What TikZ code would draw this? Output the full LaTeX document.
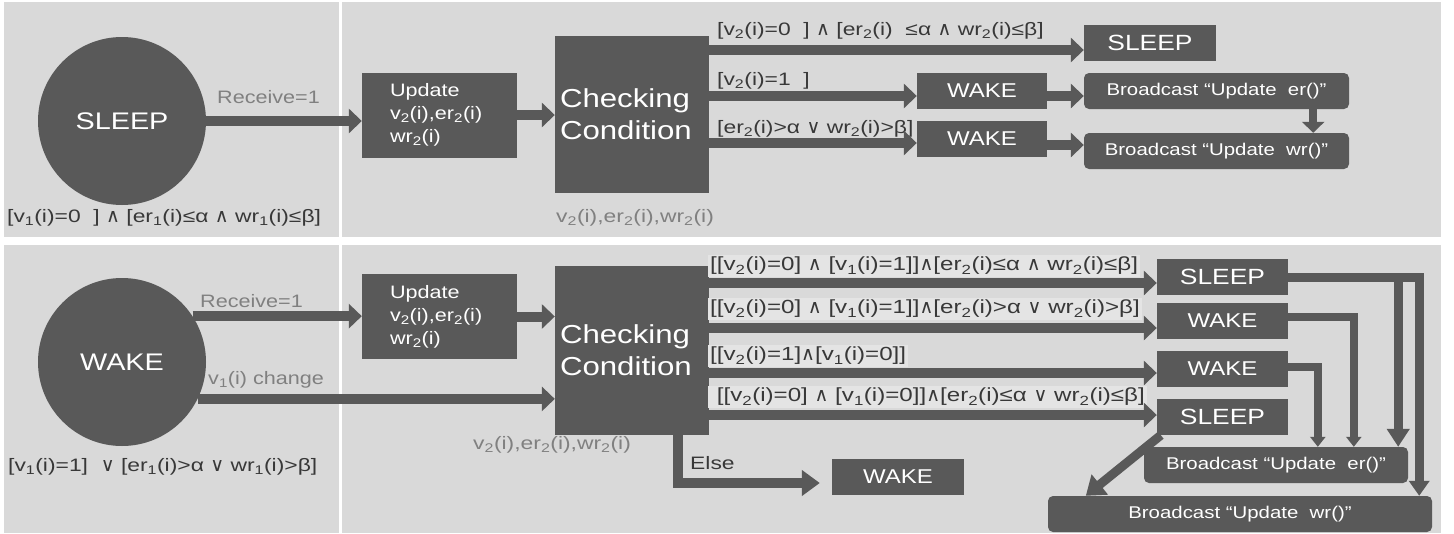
\documentclass[tikz,border=0pt]{standalone}
\usepackage{fontspec}
\setmainfont[FakeStretch=1.2]{Liberation Sans}
\newfontfamily\lf[FakeStretch=1.27]{Liberation Sans}
\newfontfamily\symf{DejaVu Sans}
\usetikzlibrary{arrows.meta,calc}
\definecolor{dk}{HTML}{595959}
\definecolor{pn}{HTML}{D9D9D9}
\definecolor{lbg}{HTML}{E4E4E4}
\definecolor{gt}{HTML}{808080}
\definecolor{tx}{HTML}{383838}
\newcommand\sbs[1]{\textsubscript{#1}}
\newcommand\AND{{\symf\fontsize{19}{19}\selectfont ∧}}
\newcommand\OR{{\symf\fontsize{19}{19}\selectfont ∨}}
\newcommand\fs[1]{\fontsize{#1}{#1}\selectfont}
\tikzset{
  big/.style={draw=dk, line width=10pt, -{Triangle[length=13pt,width=24pt]}},
  mid/.style={draw=dk, line width=9pt, -{Triangle[length=18pt,width=22pt]}},
  sml/.style={draw=dk, line width=8pt, -{Triangle[length=10pt,width=15pt]}},
  dbox/.style={fill=dk, text=white, inner sep=0pt},
  rbox/.style={dbox, rounded corners=5pt},
  bstate/.style={dbox, minimum width=131pt, minimum height=36pt, font=\fs{20}},
  circ/.style={circle, fill=dk, text=white, minimum size=168pt, inner sep=0pt, font=\fs{24}},
  upd/.style={dbox, minimum height=85pt, text width=99pt, inner xsep=28pt, align=left, font=\fontsize{18}{23}\selectfont},
  chk/.style={dbox, text width=144pt, inner xsep=5pt, align=left, font=\fontsize{26}{32}\selectfont},
  glab/.style={anchor=west, inner sep=0pt, text=gt, font=\fs{18}},
  clab/.style={anchor=west, inner sep=0pt, text=tx, font=\lf\fs{18}},
  blab/.style={anchor=west, inner sep=2pt, fill=lbg, text=tx, font=\lf\fs{19}},
}
\begin{document}
\begin{tikzpicture}[x=1pt,y=-1pt]
\useasboundingbox (0,0) rectangle (1454,533);
\fill[white] (0,0) rectangle (1454,533);
% panels
\fill[pn] (4,2) rectangle (339,237);
\fill[pn] (342,2) rectangle (1441,237);
\fill[pn] (4,245) rectangle (339,533);
\fill[pn] (342,245) rectangle (1441,533);

% ================= TOP PANEL =================
\node[circ] (c1) at (122,121) {SLEEP};
\node[upd] (up1) at (439.5,115) {Update\\v\sbs{2}(i),er\sbs{2}(i)\\wr\sbs{2}(i)};
\node[chk, minimum height=157pt] (ch1) at (632,114.5) {Checking\\Condition};
\node[bstate, minimum width=132pt, font=\fs{22}] (sl1) at (1150,43) {SLEEP};
\node[bstate, minimum width=130pt] (wk1) at (982,91) {WAKE};
\node[bstate, minimum width=130pt] (wk2) at (982,139) {WAKE};
\node[rbox, minimum width=265pt, minimum height=36pt, font=\fs{17}] (er1) at (1216.5,91) {Broadcast “Update~~er()”};
\node[rbox, minimum width=265pt, minimum height=36pt, font=\fs{17}] (wr1) at (1216.5,151) {Broadcast “Update~~wr()”};

\node[glab] (rc1) at (217,97) {Receive=1};
\node[clab] (lc1) at (7,218) {[v\sbs{1}(i)=0~~] \AND{} [er\sbs{1}(i)≤α \AND{} wr\sbs{1}(i)≤β]};
\node[glab, font=\lf\fs{18}] (gv1) at (556,218) {v\sbs{2}(i),er\sbs{2}(i),wr\sbs{2}(i)};
\node[clab] (lt1) at (717,31) {[v\sbs{2}(i)=0~~] \AND{} [er\sbs{2}(i)~ ≤α \AND{} wr\sbs{2}(i)≤β]};
\node[clab] (lt2) at (717,81) {[v\sbs{2}(i)=1~~]};
\node[clab] (lt3) at (717,129) {[er\sbs{2}(i)>α \OR{} wr\sbs{2}(i)>β]};

\draw[big] (c1.east) -- (c1.east -| up1.west);
\draw[big] (up1.east) -- (up1.east -| ch1.west);
\coordinate (t1) at ($(sl1.west)+(0,7)$);
\coordinate (t2) at ($(wk1.west)+(0,5)$);
\coordinate (t3) at ($(wk2.west)+(0,4)$);
\draw[big] (ch1.east |- t1) -- (t1);
\draw[big] (ch1.east |- t2) -- (t2);
\draw[big] (ch1.east |- t3) -- (t3);
\draw[big] (wk1.east |- t2) -- (er1.west |- t2);
\coordinate (t4) at ($(wk2.east)+(0,6)$);
\draw[big] (t4) -- (wr1.west |- t4);
\coordinate (t5) at ($(er1.south east)+(-36,0)$);
\draw[sml, -{Triangle[length=11pt,width=22pt]}] (t5) -- (t5 |- wr1.north);

% ================= BOTTOM PANEL =================
\node[circ] (c2) at (122,362) {WAKE};
\node[upd] (up2) at (439.5,316.5) {Update\\v\sbs{2}(i),er\sbs{2}(i)\\wr\sbs{2}(i)};
\node[chk, minimum height=169pt] (ch2) at (632,350.5) {Checking\\Condition};
\node[bstate, font=\fs{22}] (s3) at (1222.5,277) {SLEEP};
\node[bstate] (w3) at (1222.5,320.5) {WAKE};
\node[bstate] (w4) at (1222.5,369) {WAKE};
\node[bstate, font=\fs{22}] (s4) at (1222.5,417) {SLEEP};
\node[bstate, minimum width=132pt] (ewk) at (898,477) {WAKE};
\node[rbox, minimum width=264pt, minimum height=36pt, font=\fs{17}] (er2) at (1276,465) {Broadcast “Update~~er()”};
\node[rbox, minimum width=384pt, minimum height=36pt, font=\fs{17}] (wr2) at (1240,514) {Broadcast “Update~~wr()”};

\node[glab] (rc2) at (200,301) {Receive=1};
\node[glab] (vc2) at (208,380) {v\sbs{1}(i) change};
\node[clab] (lc2) at (8,467) {[v\sbs{1}(i)=1]~ \OR{} [er\sbs{1}(i)>α \OR{} wr\sbs{1}(i)>β]};
\node[glab, font=\lf\fs{18}] (gv2) at (473,445) {v\sbs{2}(i),er\sbs{2}(i),wr\sbs{2}(i)};
\node[clab] (el) at (690,463) {Else};
\node[blab] (lb1) at (708,266) {[[v\sbs{2}(i)=0] \AND{} [v\sbs{1}(i)=1]]\AND[er\sbs{2}(i)≤α \AND{} wr\sbs{2}(i)≤β]};
\node[blab] (lb2) at (708,309) {[[v\sbs{2}(i)=0] \AND{} [v\sbs{1}(i)=1]]\AND[er\sbs{2}(i)>α \OR{} wr\sbs{2}(i)>β]};
\node[blab] (lb3) at (708,356) {[[v\sbs{2}(i)=1]\AND[v\sbs{1}(i)=0]]};
\node[blab] (lb4) at (708,397) {~[[v\sbs{2}(i)=0] \AND{} [v\sbs{1}(i)=0]]\AND[er\sbs{2}(i)≤α \OR{} wr\sbs{2}(i)≤β]};

\draw[big] (c2.33) -- (c2.33 -| up2.west);
\draw[big] (c2.-26) -- (c2.-26 -| ch2.west);
\draw[big] (up2.east) -- (up2.east -| ch2.west);
\coordinate (b1) at ($(s3.west)+(0,6)$);
\coordinate (b2) at ($(w3.west)+(0,7.5)$);
\coordinate (b3) at ($(w4.west)+(0,4)$);
\coordinate (b4) at ($(s4.west)+(0,-2)$);
\draw[big] (ch2.east |- b1) -- (b1);
\draw[big] (ch2.east |- b2) -- (b2);
\draw[big] (ch2.east |- b3) -- (b3);
\draw[big] (ch2.east |- b4) -- (b4);
% else
\coordinate (e0) at ($(ch2.south west)+(123,0)$);
\coordinate (e1) at ($(ewk.west)+(0,6)$);
\draw[big, -{Triangle[length=18pt,width=25pt]}, shorten >=12pt] (e0) |- (e1);
% right side connectors
\coordinate (o1) at ($(wr2.north east)+(-13,0)$);
\coordinate (o2) at ($(er2.north east)+(-10,0)$);
\draw[mid, -{Triangle[length=15pt,width=20pt]}] (s3.east) -| (o1);
\draw[mid] (o2 |- s3.east) -- (o2);
\coordinate (o3) at ($(w3.east)+(0,-4)$);
\coordinate (o4) at ($(er2.north west)+(210,0)$);
\draw[sml] (o3) -| (o4);
\coordinate (o5) at ($(w4.east)+(0,-2)$);
\coordinate (o6) at ($(er2.north west)+(174,0)$);
\draw[sml] (o5) -| (o6);
\coordinate (o7) at ($(s4.south west)+(4,0)$);
\coordinate (o8) at ($(wr2.north west)+(38,0)$);
\draw[mid, -{Triangle[length=18pt,width=25pt]}] (o7) -- (o8);
\end{tikzpicture}
\end{document}
